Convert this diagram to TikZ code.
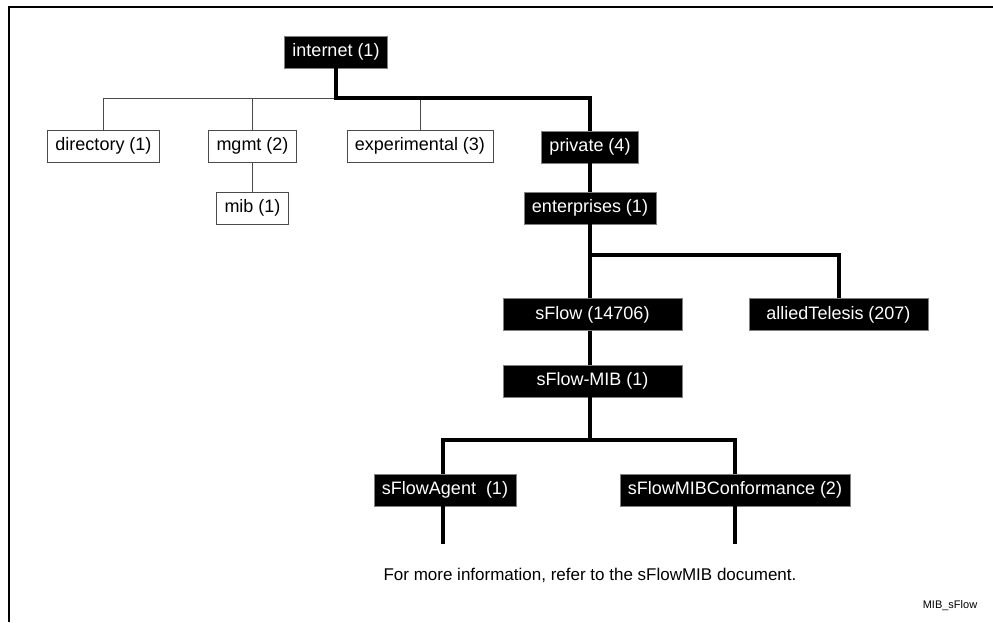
\documentclass[tikz,border=0pt]{standalone}
\usepackage{fontspec}
\setmainfont{Liberation Sans}
\usetikzlibrary{positioning, calc}
\definecolor{cline}{HTML}{4A4A4A}
\tikzset{
  every picture/.style={font=\fontsize{18}{21}\selectfont},
  oid/.style={draw=cline, fill=white, line width=0.8pt, inner xsep=8pt, inner ysep=0pt, minimum height=32pt},
  oidsel/.style={oid, draw=gray, fill=black, text=white},
  wide/.style={minimum width=179pt},
  thinline/.style={draw=cline, line width=1pt},
  thickline/.style={draw=black, line width=4pt},
  frame/.style={draw=black, line width=2.5pt},
  note/.style={font=\fontsize{17}{20}\selectfont},
  tag/.style={font=\fontsize{11}{13}\selectfont},
}

\begin{document}
\begin{tikzpicture}[x=1pt, y=-1pt]
  \useasboundingbox (0,0) rectangle (993,622);
  \draw[frame] (9,622) -- (9,7) -- (993,7);
  % first level under internet
  \node[oidsel] (internet) at (336,52) {internet (1)};
  \node[oid] (directory) at (103.5,146) {directory (1)};
  \node[oid] (mgmt) at (252.5,146) {mgmt (2)};
  \node[oid] (experimental) at (420,146) {experimental (3)};
  \node[oidsel] (private) at (590,147) {private (4)};
  \node[oid] (mib) at (252.5,208) {mib (1)};
  \coordinate (bus1) at (336,98);
  \draw[thinline] (directory.north) |- (bus1);
  \draw[thinline] (mgmt.north) -- (mgmt.north |- bus1);
  \draw[thinline] (experimental.north) -- (experimental.north |- bus1);
  \draw[thinline] (mgmt.south) -- (mib.north);
  \draw[thickline] (internet.south) -- (bus1) -| (private.north);
  % private branch
  \node[oidsel] (enterprises) at (590,208) {enterprises (1)};
  \node[oidsel, wide] (sflow) at (592.5,314.5) {sFlow (14706)};
  \node[oidsel, wide] (allied) at (838.5,314.5) {alliedTelesis (207)};
  \node[oidsel, wide] (sflowmib) at (592.5,381) {sFlow-MIB (1)};
  \coordinate (bus2) at (590,255);
  \draw[thickline] (private.south) -- (enterprises.north);
  \draw[thickline] (enterprises.south) -- (bus2) -- (bus2 |- sflow.north);
  \draw[thickline] (bus2) -| (allied.north);
  \draw[thickline] (bus2 |- sflow.south) -- (bus2 |- sflowmib.north);
  % sFlow-MIB groups
  \node[oidsel] (agent) at (445,490) {sFlowAgent~ (1)};
  \node[oidsel] (conform) at (735,490) {sFlowMIBConformance (2)};
  \coordinate (bus3) at (590,440);
  \coordinate (agentend) at (443,544);
  \coordinate (conformend) at (735,544);
  \draw[thickline] (bus3 |- sflowmib.south) -- (bus3);
  \draw[thickline] (agent.north -| agentend) |- (bus3) -| (conform.north);
  \draw[thickline] (agent.south -| agentend) -- (agentend);
  \draw[thickline] (conform.south) -- (conformend);
  \node[note] (info) at (590,575) {For more information, refer to the sFlowMIB document.};
  \node[tag] (figname) at (950,606) {MIB\_sFlow};
\end{tikzpicture}
\end{document}
